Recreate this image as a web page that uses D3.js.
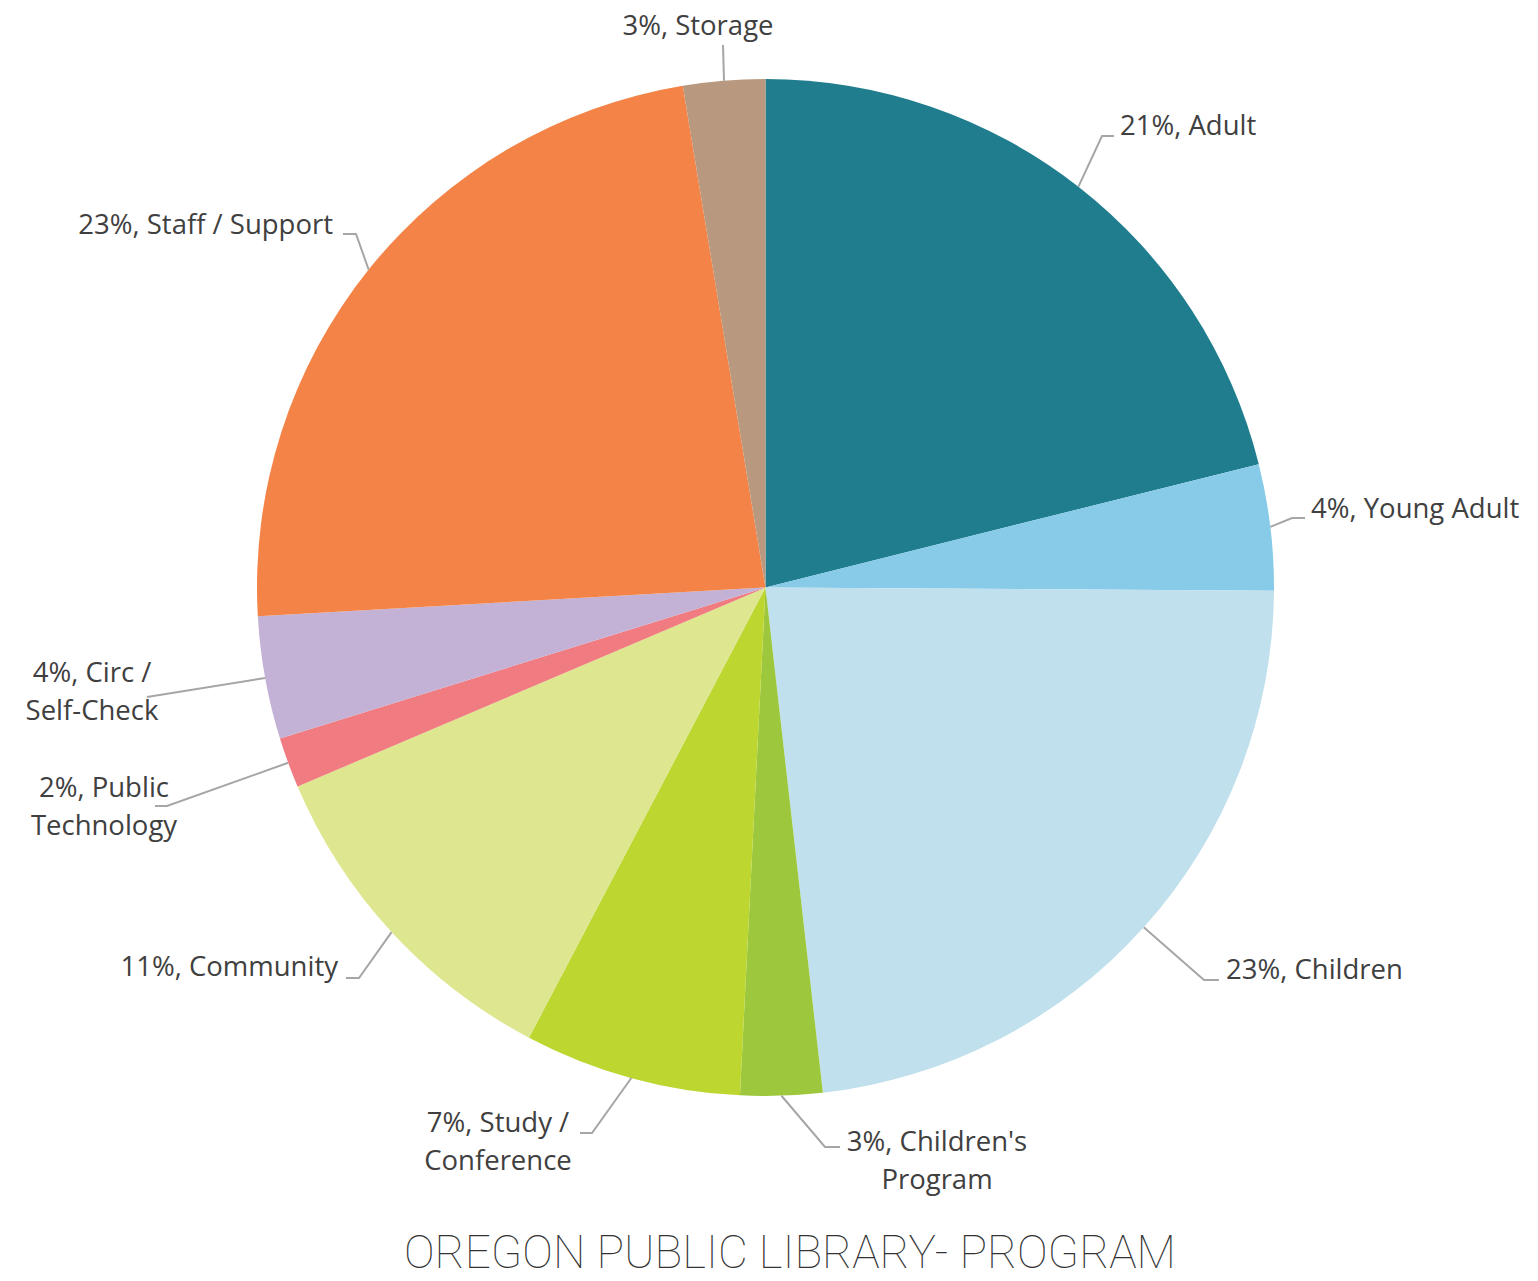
<!DOCTYPE html>
<html>
<head>
<meta charset="utf-8">
<script src="https://cdn.jsdelivr.net/npm/d3@7"></script>
<style>
  body { margin: 0; background: #fff; }
  svg text { font-family: "Open Sans", sans-serif; }
</style>
</head>
<body>
<div id="chart"></div>
<script>
// data (share of area, %)
var categories = ["Adult", "Young Adult", "Children", "Children's Program", "Study / Conference",
    "Community", "Public Technology", "Circ / Self-Check", "Staff / Support", "Storage"];
var values = [21.1, 4.0, 23.1, 2.6, 6.9, 10.9, 1.6, 3.9, 23.3, 2.6];
var colors = ["#207d8e", "#87cbe8", "#bfe0ec", "#9dc83d", "#bdd630",
    "#dee78f", "#f07b80", "#c3b2d6", "#f38346", "#b8997f"];
// label text lines (name part), percent comes from values
var labelLines = [["Adult"], ["Young Adult"], ["Children"], ["Children's", "Program"], ["Study /", "Conference"],
    ["Community"], ["Public", "Technology"], ["Circ /", "Self-Check"], ["Staff / Support"], ["Storage"]];

// label layout: text x, first baseline, anchor, elbow point, end of leader
var labelPos = [
    {x: 1120, y: 135, anchor: "start", elbow: [1102, 136], end: [1114, 136]},
    {x: 1311, y: 518, anchor: "start", elbow: [1292, 518], end: [1305, 518]},
    {x: 1226, y: 979, anchor: "start", elbow: [1204, 980], end: [1219, 980]},
    {x: 937, y: 1151, anchor: "middle", elbow: [825, 1147], end: [840, 1147]},
    {x: 498, y: 1132, anchor: "middle", elbow: [592, 1133], end: [580, 1133]},
    {x: 338, y: 976, anchor: "end", elbow: [359, 978], end: [346, 978]},
    {x: 104, y: 797, anchor: "middle", elbow: [167, 806], end: [155, 806]},
    {x: 92, y: 682, anchor: "middle", elbow: [147, 697], end: [147, 697]},
    {x: 333, y: 234, anchor: "end", elbow: [356, 234], end: [343, 234]},
    {x: 698, y: 35, anchor: "middle", elbow: [723, 45], end: [723, 45]}
];

var width = 1538, height = 1281;
var cx = 765.5, cy = 587.5, r = 508.5;

var svg = d3.select('#chart').append('svg')
    .attr('width', width)
    .attr('height', height);

var data = categories.map(function(c, i) {
    return {name: c, value: values[i], color: colors[i], lines: labelLines[i], pos: labelPos[i]};
});

var pie = d3.pie().sort(null).value(function(d) { return d.value; });
var arc = d3.arc().innerRadius(0).outerRadius(r);

var g = svg.append('g').attr('transform', 'translate(' + cx + ',' + cy + ')');
var arcs = pie(data);

g.selectAll('path.slice')
    .data(arcs)
    .enter()
    .append('path')
    .attr('class', 'slice')
    .attr('d', arc)
    .attr('fill', function(d) { return d.data.color; });

// leader lines
svg.selectAll('polyline.leader')
    .data(arcs)
    .enter()
    .append('polyline')
    .attr('class', 'leader')
    .attr('fill', 'none')
    .attr('stroke', '#a6a6a6')
    .attr('stroke-width', 2)
    .attr('points', function(d) {
        var a = (d.startAngle + d.endAngle) / 2;
        var p0 = [cx + r * Math.sin(a), cy - r * Math.cos(a)];
        return [p0, d.data.pos.elbow, d.data.pos.end].map(function(p) { return p.join(','); }).join(' ');
    });

// labels
var lbl = svg.selectAll('text.lbl')
    .data(arcs)
    .enter()
    .append('text')
    .attr('class', 'lbl')
    .attr('fill', '#404040')
    .attr('font-size', 27.5)
    .attr('text-anchor', function(d) { return d.data.pos.anchor; });

lbl.each(function(d) {
    var t = d3.select(this);
    d.data.lines.forEach(function(line, i) {
        var txt = i === 0 ? Math.round(d.data.value) + '%, ' + line : line;
        t.append('tspan')
            .attr('x', d.data.pos.x)
            .attr('y', d.data.pos.y + i * 38)
            .text(txt);
    });
});

// title
svg.append('text')
    .attr('x', 790)
    .attr('y', 1268)
    .attr('text-anchor', 'middle')
    .attr('fill', '#333')
    .style('font-family', 'Roboto, sans-serif')
    .style('font-weight', 100)
    .attr('font-size', 46)
    .attr('textLength', 772)
    .attr('lengthAdjust', 'spacingAndGlyphs')
    .text('OREGON PUBLIC LIBRARY- PROGRAM');
</script>
</body>
</html>
